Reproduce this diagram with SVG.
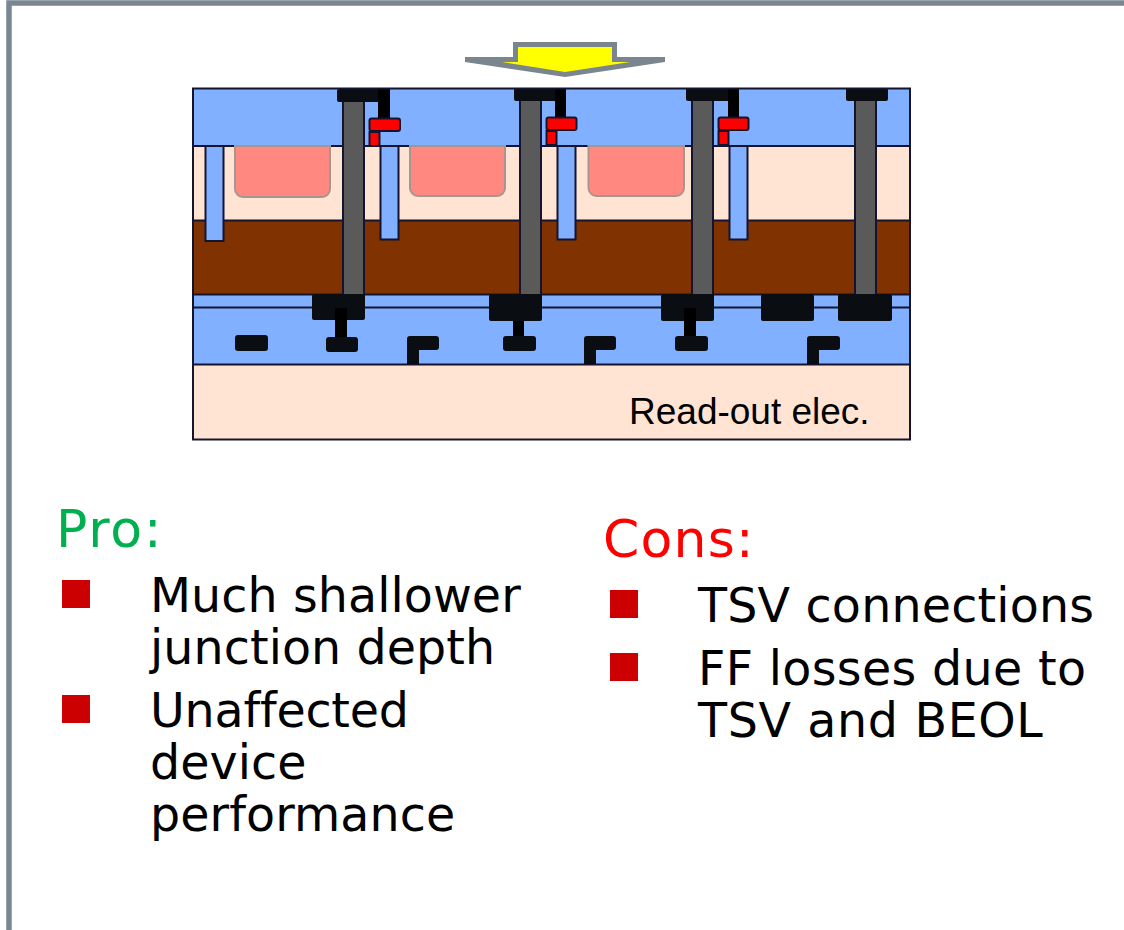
<svg xmlns="http://www.w3.org/2000/svg" width="1124" height="930" viewBox="0 0 1124 930">
<style>
.ln{stroke:#14142e;stroke-width:2}
.bl{fill:#80b0ff}
.cr{fill:#ffe4d3}
.br{fill:#803300}
.pk{fill:#ff8880;stroke:#a8958f;stroke-width:2}
.ts{fill:#5a5a5a;stroke:#14142e;stroke-width:2}
.mt{fill:#0a0d12}
.mk{fill:#000}
.rd{fill:#ff0000;stroke:#14142e;stroke-width:2}
.tr{fill:#80b0ff;stroke:#14142e;stroke-width:2}
.h{font-family:"DejaVu Sans",Verdana,sans-serif;font-size:52px;font-variant-ligatures:none}
.t{font-family:"DejaVu Sans",Verdana,sans-serif;font-size:47.5px;letter-spacing:.1px;font-variant-ligatures:none;fill:#000}
.bu{fill:#cc0000}
</style>
<rect width="1124" height="930" fill="#fff"/>
<g id="frame"><path d="M1124 3H9V930" fill="none" stroke="#7a8793" stroke-width="5.500"/></g>
<g id="arrow">
<polygon points="513,42 617,42 617,57 665,57 665,62 565,77 465,62 465,57 513,57" fill="#7b858e"/>
<polygon points="518,47 612,47 612,62 630,62 565,72 502,62 518,62" fill="#ffff00"/>
</g>
<g id="stack">
<rect class="bl" x="193" y="89" width="717" height="57"/>
<rect class="cr" x="193" y="146" width="717" height="74"/>
<rect class="br" x="193" y="220" width="717" height="74"/>
<rect class="bl" x="193" y="294" width="717" height="70"/>
<rect class="cr" x="193" y="364" width="717" height="76"/>
<path class="ln" d="M193 146H910M193 220.500H910M193 294.500H910M193 307.500H910M193 364.500H910" fill="none"/>
<g id="pixels">
<path class="pk" d="M235 146V189a8 8 0 0 0 8 8H322a8 8 0 0 0 8-8V146Z"/>
<path class="pk" d="M410 146V188a8 8 0 0 0 8 8H497a8 8 0 0 0 8-8V146Z"/>
<path class="pk" d="M588.500 146V188a8 8 0 0 0 8 8H676a8 8 0 0 0 8-8V146Z"/>
</g>
<g id="trenches">
<rect class="tr" x="205.500" y="146" width="18" height="95"/>
<rect class="tr" x="380.500" y="146" width="18" height="93.500"/>
<rect class="tr" x="557.500" y="146" width="18" height="93.500"/>
<rect class="tr" x="729.500" y="146" width="18" height="93.500"/>
</g>
<g id="tsvs">
<rect class="ts" x="343" y="100" width="21" height="195"/>
<rect class="ts" x="520" y="99" width="21" height="196"/>
<rect class="ts" x="692" y="99" width="21" height="196"/>
<rect class="ts" x="855" y="99" width="21" height="196"/>
</g>
<g id="top-metal">
<rect class="mt" x="337" y="89" width="53" height="13" rx="2"/><rect class="mk" x="378" y="89" width="12" height="30"/>
<rect class="mt" x="514" y="88" width="52" height="13" rx="2"/><rect class="mk" x="555" y="88" width="11" height="30"/>
<rect class="mt" x="686" y="88" width="53" height="13" rx="2"/><rect class="mk" x="728" y="88" width="11" height="30"/>
<rect class="mt" x="846" y="88" width="42" height="13" rx="2"/>
</g>
<g id="red-contacts">
<rect class="rd" x="369.500" y="132" width="10" height="14"/><rect class="rd" x="369.500" y="118.500" width="30.500" height="12.500" rx="2"/>
<rect class="rd" x="546.500" y="131" width="10" height="14"/><rect class="rd" x="546.500" y="117.500" width="30" height="12.500" rx="2"/>
<rect class="rd" x="718.500" y="131" width="10" height="14"/><rect class="rd" x="718.500" y="117.500" width="30" height="12.500" rx="2"/>
</g>
<g id="bottom-metal">
<rect class="mt" x="312" y="294" width="53" height="26" rx="2"/><rect class="mk" x="335" y="308" width="12" height="30"/><rect class="mt" x="326" y="337" width="32" height="15" rx="3"/>
<rect class="mt" x="489" y="294" width="53" height="27" rx="2"/><rect class="mk" x="513" y="321" width="11" height="16"/><rect class="mt" x="503" y="336" width="33" height="15" rx="3"/>
<rect class="mt" x="661" y="294" width="53" height="27" rx="2"/><rect class="mk" x="684" y="308" width="12" height="30"/><rect class="mt" x="675" y="336" width="33" height="15" rx="3"/>
<rect class="mt" x="761" y="294" width="53" height="27" rx="2"/>
<rect class="mt" x="838" y="294" width="54" height="27" rx="2"/>
<rect class="mt" x="235" y="335" width="33" height="16" rx="3"/>
<path class="mt" d="M407 364V339a3 3 0 0 1 3-3H436a3 3 0 0 1 3 3V347a3 3 0 0 1-3 3H419V364Z"/>
<path class="mt" d="M584 364V339a3 3 0 0 1 3-3H613a3 3 0 0 1 3 3V347a3 3 0 0 1-3 3H596V364Z"/>
<path class="mt" d="M807 364V339a3 3 0 0 1 3-3H837a3 3 0 0 1 3 3V347a3 3 0 0 1-3 3H819V364Z"/>
</g>
<rect x="193" y="88.500" width="717" height="351" fill="none" class="ln"/>
<text x="629" y="424" font-family="'Liberation Sans',Arial,sans-serif" font-size="37">Read-out elec.</text>
</g>
<g id="pro">
<text class="h" x="56" y="547" fill="#00b050" letter-spacing="1.800">Pro:</text>
<rect class="bu" x="62" y="580" width="28" height="28"/>
<text class="t" x="150" y="611.500">Much shallower</text>
<text class="t" x="150" y="663.500" letter-spacing=".2">junction depth</text>
<rect class="bu" x="62" y="695" width="28" height="28"/>
<text class="t" x="150" y="727" style="letter-spacing:-.2px">Unaffected</text>
<text class="t" x="150" y="778.500">device</text>
<text class="t" x="150" y="830.500">performance</text>
</g>
<g id="cons">
<text class="h" x="603" y="557" fill="#ff0000" letter-spacing="1.200">Cons:</text>
<rect class="bu" x="610" y="590" width="28" height="28"/>
<text class="t" x="698" y="622" style="letter-spacing:.2px">TSV connections</text>
<rect class="bu" x="610" y="653" width="28" height="28"/>
<text class="t" x="698" y="685" style="letter-spacing:.35px">FF losses due to</text>
<text class="t" x="698" y="737" style="letter-spacing:.65px">TSV and BEOL</text>
</g>
</svg>
